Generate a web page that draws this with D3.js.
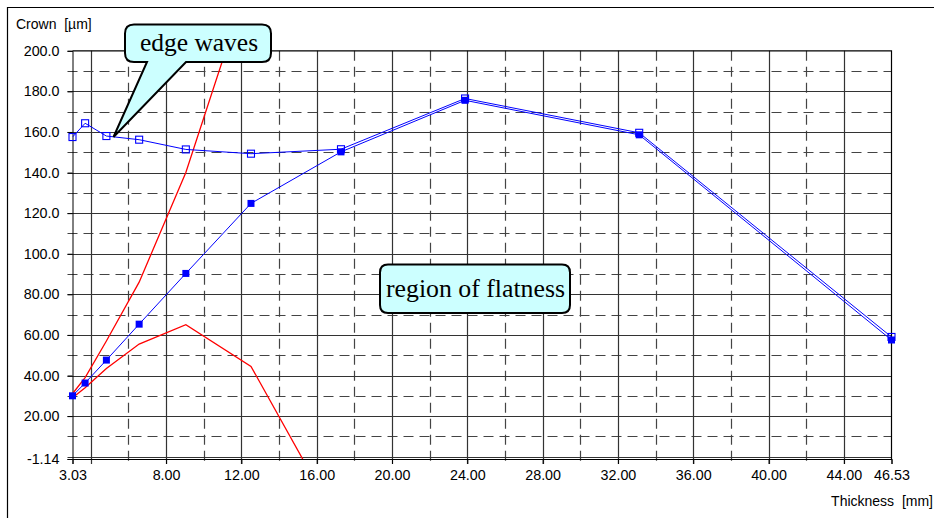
<!DOCTYPE html>
<html><head><meta charset="utf-8">
<script src="https://cdn.jsdelivr.net/npm/d3@7"></script>
<style>html,body{margin:0;padding:0;background:#fff;}svg{display:block;}</style>
</head><body>
<svg id="chart" width="934" height="518"></svg>
<script>
// ---- data ----
const thickness = [3.03, 3.70, 4.83, 6.57, 9.05, 12.51, 17.29, 23.88, 33.13, 46.53];
const crownOpen = [157.5, 164.3, 158.0, 156.2, 151.4, 149.3, 151.5, 176.5, 159.6, 59.0];
const crownFilled = [30.0, 36.3, 47.6, 65.3, 90.3, 124.8, 150.2, 175.6, 158.6, 57.5];
const redUpperX = [3.03, 3.70, 4.83, 6.57, 9.05, 12.51];
const redUpper = [31.0, 39.0, 57.0, 86.0, 140.0, 238.0];
const redLowerX = [3.03, 3.70, 4.83, 6.57, 9.05, 12.51, 17.29];
const redLower = [29.0, 34.0, 43.5, 55.5, 65.0, 44.5, -35.0];
const xTickValues = [3.03, 8, 12, 16, 20, 24, 28, 32, 36, 40, 44, 46.53];
const xTickLabels = ["3.03","8.00","12.00","16.00","20.00","24.00","28.00","32.00","36.00","40.00","44.00","46.53"];
const yTickValues = [-1.14, 20, 40, 60, 80, 100, 120, 140, 160, 180, 200];
const yTickLabels = ["-1.14","20.00","40.00","60.00","80.00","100.0","120.0","140.0","160.0","180.0","200.0"];
const xGridSolid = [4, 8, 12, 16, 20, 24, 28, 32, 36, 40, 44];
const xGridDashed = [6, 10, 14, 18, 22, 26, 30, 34, 38, 42];
const yGridSolid = [0, 20, 40, 60, 80, 100, 120, 140, 160, 180];
const yGridDashed = [10, 30, 50, 70, 90, 110, 130, 150, 170, 190];
const xDomain = [3.03, 46.53];
const yDomain = [-1.14, 200];

// ---- layout ----
const svg = d3.select("#chart");
const L = 72.5, R = 891.5, T = 50.8, B = 459;
const x = d3.scaleLinear().domain(xDomain).range([L, R]);
const y = d3.scaleLinear().domain(yDomain).range([B, T]);
const sans = "'Liberation Sans', Arial, sans-serif";
const serif = "'Liberation Serif', 'Times New Roman', serif";

// outer frame
svg.append("path").attr("d", "M7.5,520 V7.5 H940").attr("fill","none").attr("stroke","#000").attr("stroke-width",1.2);

// clip
svg.append("defs").append("clipPath").attr("id","plotclip")
  .append("rect").attr("x",L).attr("y",T).attr("width",R-L).attr("height",B-T);

const grid = svg.append("g");
// dashed grid
grid.selectAll(".hd").data(yGridDashed).join("line")
  .attr("x1",L-5).attr("x2",R).attr("y1",d=>Math.round(y(d))+0.5).attr("y2",d=>Math.round(y(d))+0.5)
  .attr("stroke","#444").attr("stroke-width",1.2).attr("stroke-dasharray","10,6");
grid.selectAll(".vd").data(xGridDashed).join("line")
  .attr("y1",T).attr("y2",B+5).attr("x1",d=>Math.round(x(d))+0.5).attr("x2",d=>Math.round(x(d))+0.5)
  .attr("stroke","#444").attr("stroke-width",1.2).attr("stroke-dasharray","10,6");
// solid grid
grid.selectAll(".hs").data(yGridSolid).join("line")
  .attr("x1",L-5).attr("x2",R).attr("y1",d=>Math.round(y(d))+0.5).attr("y2",d=>Math.round(y(d))+0.5)
  .attr("stroke","#333").attr("stroke-width",1.2);
grid.selectAll(".vs").data(xGridSolid).join("line")
  .attr("y1",T).attr("y2",B+5).attr("x1",d=>Math.round(x(d))+0.5).attr("x2",d=>Math.round(x(d))+0.5)
  .attr("stroke","#333").attr("stroke-width",1.2);

// axes via d3
const xAxis = d3.axisBottom(x).tickValues(xTickValues).tickSize(5).tickPadding(6)
  .tickFormat((d,i)=>xTickLabels[i]);
const gx = svg.append("g").attr("transform",`translate(0,${B})`).call(xAxis);
gx.select(".domain").attr("stroke","#000");
gx.selectAll(".tick line").attr("stroke","#000");
gx.selectAll("text").attr("font-family",sans).attr("font-size",14.3).attr("fill","#000");

const yAxis = d3.axisLeft(y).tickValues(yTickValues).tickSize(5).tickPadding(8)
  .tickFormat((d,i)=>yTickLabels[i]);
const gy = svg.append("g").attr("transform",`translate(${L},0)`).call(yAxis);
gy.select(".domain").attr("stroke","#000");
gy.selectAll(".tick line").attr("stroke","#000");
gy.selectAll("text").attr("font-family",sans).attr("font-size",14.3).attr("fill","#000");

// top & right border
svg.append("path").attr("d",`M${L},${T} H${R} V${B}`).attr("fill","none").attr("stroke","#000").attr("stroke-width",1.2);

// axis titles
svg.append("text").attr("x",16).attr("y",29).attr("font-family",sans).attr("font-size",14)
  .attr("xml:space","preserve").text("Crown  [\u00b5m]");
svg.append("text").attr("x",933).attr("y",506).attr("text-anchor","end").attr("font-family",sans).attr("font-size",14)
  .attr("xml:space","preserve").text("Thickness  [mm]");

// lines
const plot = svg.append("g").attr("clip-path","url(#plotclip)");
const line = d3.line().x(d=>x(d[0])).y(d=>y(d[1]));
plot.append("path").datum(d3.zip(redUpperX, redUpper)).attr("d",line)
  .attr("fill","none").attr("stroke","#ff0000").attr("stroke-width",1.3);
plot.append("path").datum(d3.zip(redLowerX, redLower)).attr("d",line)
  .attr("fill","none").attr("stroke","#ff0000").attr("stroke-width",1.3);
plot.append("path").datum(d3.zip(thickness, crownOpen)).attr("d",line)
  .attr("fill","none").attr("stroke","#0000ff").attr("stroke-width",1);
plot.append("path").datum(d3.zip(thickness, crownFilled)).attr("d",line)
  .attr("fill","none").attr("stroke","#0000ff").attr("stroke-width",1);

// markers
const ms = 7;
svg.append("g").selectAll("rect").data(d3.zip(thickness, crownFilled)).join("rect")
  .attr("x",d=>x(d[0])-ms/2).attr("y",d=>y(d[1])-ms/2).attr("width",ms).attr("height",ms)
  .attr("fill","#0000ff");
svg.append("g").selectAll("rect").data(d3.zip(thickness, crownOpen)).join("rect")
  .attr("x",d=>x(d[0])-ms/2).attr("y",d=>y(d[1])-ms/2).attr("width",ms).attr("height",ms)
  .attr("fill","none").attr("stroke","#0000ff").attr("stroke-width",1.1);

// callouts
function callout(x1,y1,x2,y2,r,ptr){
  let p = `M${x1+r},${y1} H${x2-r} Q${x2},${y1} ${x2},${y1+r} V${y2-r} Q${x2},${y2} ${x2-r},${y2} `;
  if(ptr){ p += `H${ptr.b2} L${ptr.tx},${ptr.ty} L${ptr.b1},${y2} `; }
  p += `H${x1+r} Q${x1},${y2} ${x1},${y2-r} V${y1+r} Q${x1},${y1} ${x1+r},${y1} Z`;
  return p;
}
svg.append("path").attr("d",callout(125,24.5,271,62,9,{b1:147,b2:186,tx:113.5,ty:137}))
  .attr("fill","#ccffff").attr("stroke","#000").attr("stroke-width",2).attr("stroke-linejoin","miter");
svg.append("text").attr("x",199).attr("y",50.5).attr("text-anchor","middle")
  .attr("font-family",serif).attr("font-size",25.5).text("edge waves");
svg.append("path").attr("d",callout(380,264.5,570,313,8,null))
  .attr("fill","#ccffff").attr("stroke","#000").attr("stroke-width",2);
svg.append("text").attr("x",475.5).attr("y",296.5).attr("text-anchor","middle")
  .attr("font-family",serif).attr("font-size",25.8).text("region of flatness");
</script>
</body></html>
